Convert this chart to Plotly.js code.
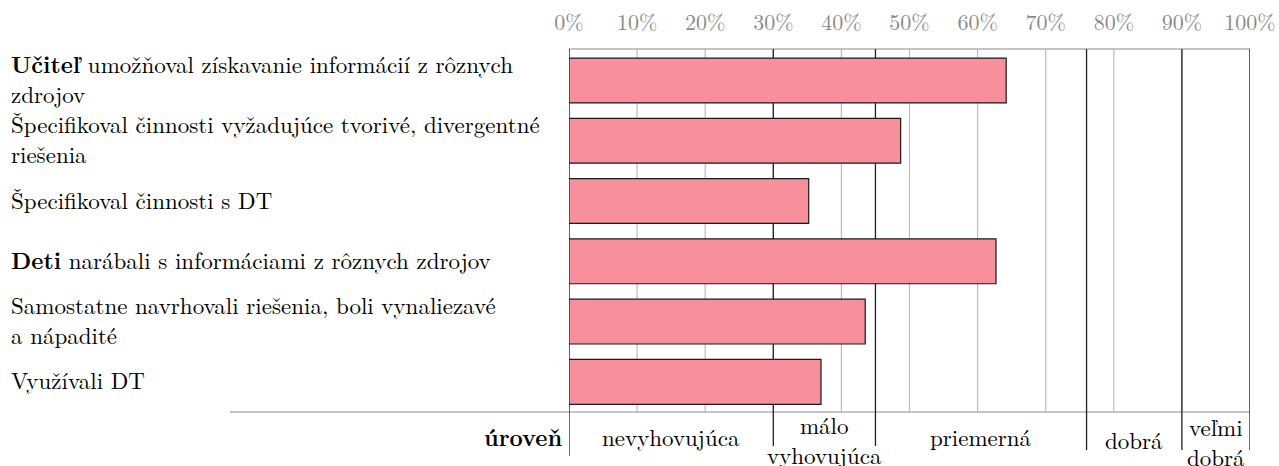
<!DOCTYPE html>
<html><head><meta charset="utf-8">
<script src="https://cdn.plot.ly/plotly-3.0.1.min.js"></script>
<style>html,body{margin:0;padding:0;background:#fff;}</style>
</head><body><div id="chart" style="width:1279px;height:466px;"></div>
<script>
// ---- data ----
const categories = ["r1", "r2", "r3", "r4", "r5", "r6"];
const rowLabels = [
  ["<b>Učiteľ</b> umožňoval získavanie informácií z rôznych", "zdrojov"],
  ["Špecifikoval činnosti vyžadujúce tvorivé, divergentné", "riešenia"],
  ["Špecifikoval činnosti s DT"],
  ["<b>Deti</b> narábali s informáciami z rôznych zdrojov"],
  ["Samostatne navrhovali riešenia, boli vynaliezavé", "a nápadité"],
  ["Využívali DT"]
];
const values = [64.2, 48.7, 35.2, 62.7, 43.5, 37.0];
const tickVals = [0, 10, 20, 30, 40, 50, 60, 70, 80, 90, 100];
const tickText = ["0%", "10%", "20%", "30%", "40%", "50%", "60%", "70%", "80%", "90%", "100%"];
const levelBounds = [0, 30, 45, 76, 90, 100];
const levelNames = [["nevyhovujúca"], ["málo", "vyhovujúca"], ["priemerná"], ["dobrá"], ["veľmi", "dobrá"]];
const levelTitle = "úroveň";

// ---- layout geometry ----
const W = 1279, H = 466;
const mL = 569, mR = 29, mT = 49, mB = 54;
const plotW = W - mL - mR, plotH = H - mT - mB;
const FONT = "Latin Modern Roman";
const FS = 23;
const TICK_FS = 22;
const levelLabelCenterPx = [437, 439, 437, 439, 441];
const boundaryBottomPx = [456, 446, 446, 450, 450, 450];
const pxToPaperX = px => (px - mL) / plotW;
const pxToPaperY = py => (H - mB - py) / plotH;

const annotations = [];
rowLabels.forEach((lines, i) => {
  annotations.push({
    xref: "paper", yref: "y", x: pxToPaperX(9), y: categories[i],
    xanchor: "left", yanchor: "middle", align: "left", showarrow: false,
    text: lines.join("<br>"), font: {family: FONT, size: FS, color: "#000"},
    yshift: 2
  });
});
levelNames.forEach((lines, i) => {
  const mid = (levelBounds[i] + levelBounds[i + 1]) / 2;
  annotations.push({
    xref: "x", yref: "paper", x: mid, y: pxToPaperY(levelLabelCenterPx[i]),
    xanchor: "center", yanchor: "middle", align: "center", showarrow: false,
    text: lines.join("<br>"), font: {family: FONT, size: FS, color: "#000"}
  });
});
annotations.push({
  xref: "paper", yref: "paper", x: pxToPaperX(564), y: pxToPaperY(437),
  xanchor: "right", yanchor: "middle", showarrow: false,
  text: "<b>" + levelTitle + "</b>", font: {family: FONT, size: FS, color: "#000"}
});

const shapes = [];
// light vertical grid at every tick
tickVals.forEach(v => {
  shapes.push({type: "line", xref: "x", yref: "paper", x0: v, x1: v, y0: 0, y1: 1,
    line: {color: "#bdbdbd", width: 1.2}, layer: "below"});
});
// bottom gray baseline
shapes.push({type: "line", xref: "paper", yref: "paper", x0: pxToPaperX(230), x1: 1, y0: 0, y1: 0,
  line: {color: "#b0b0b0", width: 1.5}, layer: "below"});
// top gray border
shapes.push({type: "line", xref: "paper", yref: "paper", x0: 0, x1: 1, y0: 1, y1: 1,
  line: {color: "#b0b0b0", width: 1.5}, layer: "below"});
// dark level boundaries
levelBounds.forEach((b, i) => {
  shapes.push({type: "line", xref: "x", yref: "paper", x0: b, x1: b, y0: pxToPaperY(boundaryBottomPx[i]), y1: 1,
    line: {color: "#222", width: 1.3}, layer: "below"});
});

const trace = {
  type: "bar", orientation: "h",
  y: categories, x: values,
  marker: {color: "#f78f9d", line: {color: "#1a1a1a", width: 1.2}},
  hoverinfo: "skip", cliponaxis: false
};

const layout = {
  width: W, height: H,
  margin: {l: mL, r: mR, t: mT, b: mB, pad: 0},
  paper_bgcolor: "#fff", plot_bgcolor: "rgba(0,0,0,0)",
  showlegend: false,
  bargap: 0.256,
  font: {family: FONT, size: FS},
  xaxis: {
    side: "top", range: [0, 100], tickvals: tickVals, ticktext: tickText,
    showgrid: false, zeroline: false, showline: false, ticks: "",
    ticklabelstandoff: 14,
    tickfont: {family: FONT, size: TICK_FS, color: "#8a8a8a"}
  },
  yaxis: {
    type: "category", categoryorder: "array", categoryarray: categories,
    autorange: "reversed", showticklabels: false, showgrid: false,
    zeroline: false, showline: false, ticks: ""
  },
  annotations: annotations,
  shapes: shapes
};

Plotly.newPlot("chart", [trace], layout, {displayModeBar: false, staticPlot: true});
</script>
</body></html>
